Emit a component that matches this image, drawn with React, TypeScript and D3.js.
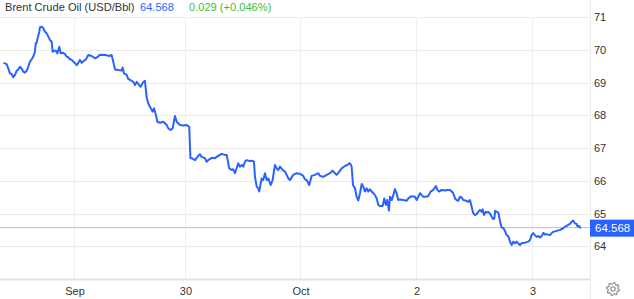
import React from "react";
import * as d3 from "d3";

const title = "Brent Crude Oil (USD/Bbl)";
const lastPrice = 64.568;
const changeText = "0.029 (+0.046%)";

// time in trading days since Sep 29 open (weekend gap removed)
const times = [
  -0.609, -0.588, -0.574, -0.559, -0.544, -0.53, -0.515, -0.5, -0.486, -0.472,
  -0.457, -0.443, -0.428, -0.413, -0.399, -0.384, -0.369, -0.355, -0.341, -0.334,
  -0.326, -0.321, -0.303, -0.297, -0.282, -0.268, -0.253, -0.238, -0.224, -0.21,
  -0.195, -0.186, -0.175, -0.157, -0.146, -0.128, -0.116, -0.099, -0.079, -0.064,
  -0.05, -0.035, -0.02, -0.006, 0.009, 0.024, 0.038, 0.052, 0.067, 0.081,
  0.105, 0.125, 0.155, 0.183, 0.203, 0.227, 0.271, 0.314, 0.329, 0.343,
  0.358, 0.387, 0.417, 0.425, 0.437, 0.46, 0.474, 0.489, 0.518, 0.533,
  0.548, 0.57, 0.583, 0.6, 0.62, 0.635, 0.649, 0.664, 0.687, 0.699,
  0.716, 0.728, 0.751, 0.78, 0.81, 0.824, 0.845, 0.862, 0.882, 0.897,
  0.926, 0.955, 0.984, 0.998, 1.007, 1.017, 1.028, 1.057, 1.086, 1.1,
  1.115, 1.144, 1.159, 1.173, 1.203, 1.231, 1.26, 1.29, 1.319, 1.334,
  1.356, 1.377, 1.391, 1.406, 1.435, 1.45, 1.465, 1.479, 1.493, 1.508,
  1.537, 1.561, 1.572, 1.581, 1.596, 1.61, 1.618, 1.631, 1.639, 1.653,
  1.668, 1.683, 1.697, 1.718, 1.735, 1.755, 1.77, 1.784, 1.799, 1.823,
  1.843, 1.858, 1.872, 1.886, 1.915, 1.945, 1.974, 2.003, 2.017, 2.032,
  2.055, 2.076, 2.105, 2.134, 2.148, 2.177, 2.207, 2.236, 2.259, 2.279,
  2.294, 2.317, 2.338, 2.367, 2.396, 2.406, 2.417, 2.425, 2.437, 2.454,
  2.469, 2.483, 2.498, 2.513, 2.527, 2.541, 2.556, 2.57, 2.585, 2.6,
  2.614, 2.629, 2.644, 2.658, 2.672, 2.696, 2.71, 2.725, 2.736, 2.751,
  2.76, 2.775, 2.789, 2.803, 2.818, 2.832, 2.847, 2.876, 2.906, 2.92,
  2.949, 2.978, 2.993, 3.022, 3.037, 3.051, 3.074, 3.094, 3.115, 3.138,
  3.162, 3.173, 3.19, 3.211, 3.24, 3.26, 3.284, 3.299, 3.313, 3.328,
  3.342, 3.356, 3.371, 3.386, 3.4, 3.424, 3.444, 3.459, 3.473, 3.487,
  3.502, 3.517, 3.531, 3.546, 3.561, 3.569, 3.581, 3.596, 3.604, 3.618,
  3.633, 3.648, 3.662, 3.671, 3.679, 3.692, 3.706, 3.721, 3.735, 3.749,
  3.764, 3.779, 3.793, 3.808, 3.823, 3.837, 3.851, 3.866, 3.88, 3.895,
  3.91, 3.939, 3.968, 3.983, 3.997, 4.011, 4.026, 4.041, 4.055, 4.07,
  4.085, 4.099, 4.113, 4.128, 4.157, 4.172, 4.186, 4.216, 4.245, 4.273,
  4.288, 4.303, 4.317, 4.332, 4.347, 4.361, 4.375, 4.39, 4.399, 4.41,
  4.422,
];

const prices = [
  69.59, 69.56, 69.43, 69.28, 69.26, 69.16, 69.23, 69.36, 69.4, 69.48,
  69.43, 69.33, 69.3, 69.36, 69.48, 69.64, 69.71, 69.79, 69.94, 70.2,
  70.2, 70.3, 70.55, 70.69, 70.7, 70.66, 70.55, 70.5, 70.4, 70.3,
  70.25, 69.94, 69.97, 69.97, 69.89, 70.09, 69.89, 69.91, 69.87, 69.79,
  69.77, 69.71, 69.69, 69.64, 69.59, 69.53, 69.6, 69.69, 69.6, 69.64,
  69.71, 69.84, 69.81, 69.74, 69.77, 69.85, 69.84, 69.81, 69.84, 69.64,
  69.4, 69.38, 69.37, 69.46, 69.28, 69.23, 69.11, 69.08, 69.02, 68.92,
  69.02, 68.92, 68.87, 68.99, 69.05, 68.54, 68.36, 68.26, 68.11, 68.21,
  68.01, 67.8, 67.77, 67.8, 67.7, 67.6, 67.55, 67.6, 67.98, 67.8,
  67.7, 67.69, 67.7, 67.67, 67.64, 66.69, 66.69, 66.63, 66.76, 66.81,
  66.73, 66.69, 66.58, 66.63, 66.7, 66.69, 66.76, 66.82, 66.79, 66.79,
  66.38, 66.33, 66.35, 66.23, 66.53, 66.43, 66.48, 66.43, 66.58, 66.63,
  66.6, 66.61, 66.58, 66.12, 65.82, 65.77, 65.67, 65.92, 66.07, 66.02,
  66.23, 66.02, 66.07, 65.87, 66.02, 66.48, 66.38, 66.33, 66.43, 66.33,
  66.28, 66.18, 66.07, 66.02, 66.18, 66.23, 66.21, 66.15, 66.04, 66.02,
  65.87, 66.15, 66.18, 66.23, 66.15, 66.12, 66.18, 66.23, 66.31, 66.23,
  66.18, 66.28, 66.38, 66.45, 66.5, 66.54, 66.5, 66.43, 65.87, 65.77,
  65.51, 65.4, 65.62, 65.9, 65.82, 65.67, 65.77, 65.67, 65.74, 65.67,
  65.62, 65.56, 65.46, 65.26, 65.23, 65.23, 65.46, 65.26, 65.41, 65.09,
  65.51, 65.41, 65.56, 65.74, 65.62, 65.41, 65.43, 65.41, 65.39, 65.46,
  65.53, 65.51, 65.41, 65.62, 65.56, 65.51, 65.51, 65.53, 65.67, 65.72,
  65.84, 65.72, 65.67, 65.72, 65.7, 65.72, 65.72, 65.67, 65.62, 65.46,
  65.41, 65.39, 65.51, 65.49, 65.41, 65.39, 65.36, 65.41, 65.21, 65.01,
  64.95, 64.98, 65.05, 65.11, 65.05, 65.13, 64.95, 65.05, 65.03, 65.05,
  65.0, 64.9, 64.83, 64.85, 65.08, 65.05, 65.03, 64.76, 64.57, 64.56,
  64.47, 64.34, 64.31, 64.14, 64.04, 64.14, 64.09, 64.14, 64.09, 64.04,
  64.09, 64.11, 64.14, 64.19, 64.34, 64.4, 64.34, 64.29, 64.31, 64.27,
  64.31, 64.41, 64.36, 64.37, 64.34, 64.4, 64.44, 64.47, 64.5, 64.55,
  64.6, 64.62, 64.65, 64.68, 64.75, 64.78, 64.7, 64.68, 64.6, 64.62,
  64.568,
];

const xTickTimes = [0, 0.969, 1.974, 2.987, 4.0];
const xTickLabels = ["Sep", "30", "Oct", "2", "3"];
const yTickValues = [64, 65, 66, 67, 68, 69, 70, 71];

const W = 634;
const H = 299;
const plotRight = 590;
const plotTop = 17;
const plotBottom = 279;

const LINE_COLOR = "#2962ff";
const FONT = "'Liberation Sans', Arial, Helvetica, sans-serif";

function gearPath(cx: number, cy: number, rOut: number, rIn: number, teeth: number) {
  const pts: [number, number][] = [];
  const n = teeth * 4;
  for (let i = 0; i < n; i++) {
    const a = (i / n) * Math.PI * 2 - Math.PI / 2 + Math.PI / n;
    const r = i % 4 < 2 ? rOut : rIn;
    pts.push([cx + r * Math.cos(a), cy + r * Math.sin(a)]);
  }
  return "M" + pts.map((p) => p[0].toFixed(2) + "," + p[1].toFixed(2)).join("L") + "Z";
}

export default function App() {
  const x = d3.scaleLinear().domain([-0.646, 4.507]).range([0, plotRight]);
  const y = d3.scaleLinear().domain([63, 71]).range([plotBottom, plotTop]);

  const data = times.map((t, i) => ({ t, v: prices[i] }));
  const line = d3
    .line<{ t: number; v: number }>()
    .x((d) => x(d.t))
    .y((d) => y(d.v))
    .curve(d3.curveLinear);

  const lastY = y(lastPrice);

  return (
    <svg
      width={W}
      height={H}
      style={{ position: "absolute", left: 0, top: 0, background: "#fff" }}
      fontFamily={FONT}
    >
      <rect x={0} y={0} width={W} height={H} fill="#fff" />
      {yTickValues.map((v) => (
        <line
          key={"hg" + v}
          x1={0}
          x2={plotRight}
          y1={Math.round(y(v)) + 0.5}
          y2={Math.round(y(v)) + 0.5}
          stroke="#ebebeb"
          strokeWidth={1}
        />
      ))}
      {xTickTimes.map((t, i) => (
        <line
          key={"vg" + i}
          x1={Math.round(x(t)) + 0.5}
          x2={Math.round(x(t)) + 0.5}
          y1={plotTop}
          y2={plotBottom}
          stroke="#efeff3"
          strokeWidth={1}
        />
      ))}
      <line x1={0} x2={plotRight} y1={plotBottom + 0.5} y2={plotBottom + 0.5} stroke="#e2e2e2" strokeWidth={2} />
      <line x1={plotRight + 0.5} x2={plotRight + 0.5} y1={0} y2={H} stroke="#ececf0" strokeWidth={1} />

      <line x1={0} x2={plotRight} y1={lastY} y2={lastY} stroke="#a8c0f8" strokeWidth={1} />

      <path
        d={line(data) || ""}
        fill="none"
        stroke={LINE_COLOR}
        strokeWidth={2}
        strokeLinejoin="round"
        strokeLinecap="round"
      />

      {yTickValues.map((v) => (
        <text key={"yl" + v} x={594} y={y(v) + 4} fontSize={11} fill="#333">
          {v}
        </text>
      ))}

      <rect x={plotRight} y={lastY - 8} width={W - plotRight} height={17} fill={LINE_COLOR} />
      <text x={595} y={lastY + 4.5} fontSize={11.5} fill="#fff">
        {lastPrice.toFixed(3)}
      </text>

      {xTickTimes.map((t, i) => (
        <text
          key={"xl" + i}
          x={x(t) + 1}
          y={295}
          fontSize={11}
          fill="#333"
          textAnchor="middle"
        >
          {xTickLabels[i]}
        </text>
      ))}

      <rect x={0} y={0} width={plotRight} height={15} fill="#fff" />
      <text x={5} y={10.5} fontSize={11.1} fill="#333">
        {title}
      </text>
      <text x={140} y={10.5} fontSize={11.1} fill={LINE_COLOR}>
        {lastPrice.toFixed(3)}
      </text>
      <text x={189} y={10.5} fontSize={11.1} fill="#3bbf3b">
        {changeText}
      </text>

      <path d={gearPath(613, 289, 6.5, 5, 8)} fill="none" stroke="#8a8a8a" strokeWidth={1.1} strokeLinejoin="round" />
      <circle cx={613} cy={289} r={2.2} fill="none" stroke="#8a8a8a" strokeWidth={1.1} />
    </svg>
  );
}
